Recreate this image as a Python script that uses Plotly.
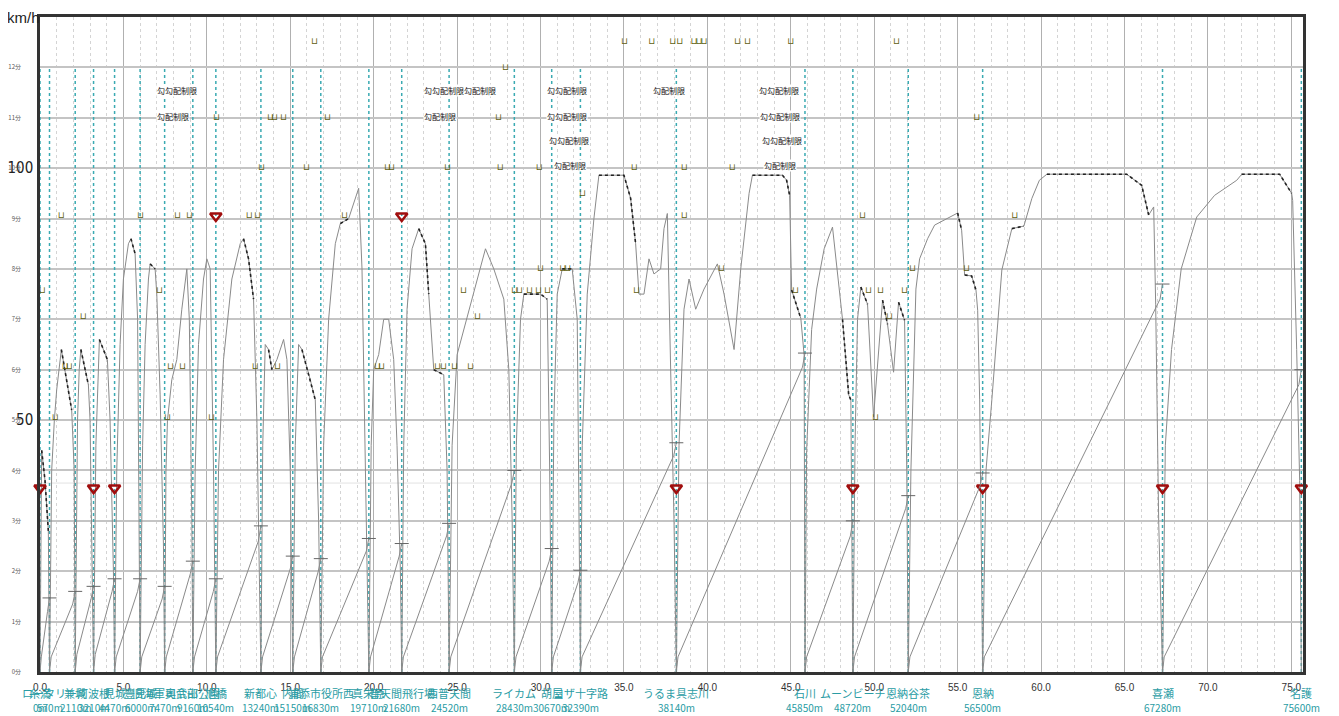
import plotly.graph_objects as go

# ---------------- data ----------------
station_km = [0.0, 0.57, 2.11, 3.21, 4.47, 6.0, 7.47, 9.16, 10.54, 13.24, 15.15, 16.83,
              19.71, 21.68, 24.52, 28.43, 30.67, 32.39, 38.14, 45.85, 48.72, 52.04,
              56.5, 67.28, 75.6]
station_names = ["糸満", "ロータリー", "兼城", "阿波根", "見城", "豊見城", "旧海軍司令部",
                 "奥武山公園", "旭橋", "新都心", "内間", "浦添市役所西", "真栄原",
                 "普天間飛行場", "西普天間", "ライカム", "胡屋", "コザ十字路", "うるま具志川",
                 "石川", "ムーンビーチ", "恩納谷茶", "恩納", "喜瀬", "名護"]
station_dist = ["0m", "570m", "2110m", "3210m", "4470m", "6000m", "7470m", "9160m",
                "10540m", "13240m", "15150m", "16830m", "19710m", "21680m", "24520m",
                "28430m", "30670m", "32390m", "38140m", "45850m", "48720m", "52040m",
                "56500m", "67280m", "75600m"]

# running speed curve (km, km/h)
speed_km = [0.0, 0.1, 0.3, 0.5, 0.57,
            0.7, 0.86, 1.0, 1.28, 1.6, 1.9, 2.05, 2.11,
            2.25, 2.35, 2.45, 2.9, 3.0, 3.15, 3.21,
            3.35, 3.5, 3.56, 4.04, 4.2, 4.4, 4.47,
            4.6, 4.8, 5.0, 5.3, 5.45, 5.7, 5.85, 6.0,
            6.15, 6.3, 6.5, 6.6, 6.9, 7.0, 7.2, 7.4, 7.47,
            7.55, 7.64, 7.9, 8.2, 8.5, 8.8, 8.95, 9.1, 9.16,
            9.3, 9.5, 9.8, 10.0, 10.2, 10.4, 10.54,
            10.7, 11.0, 11.5, 12.0, 12.2, 12.5, 12.8, 13.0, 13.24,
            13.35, 13.5, 13.7, 13.9, 14.2, 14.6, 14.8, 15.0, 15.15,
            15.3, 15.5, 15.7, 16.2, 16.5, 16.7, 16.83,
            17.0, 17.3, 17.7, 18.0, 18.5, 18.8, 19.1, 19.3, 19.5, 19.71,
            19.85, 20.0, 20.3, 20.6, 20.9, 21.2, 21.4, 21.6, 21.68,
            21.8, 22.0, 22.3, 22.7, 23.1, 23.3, 23.6, 24.2, 24.4, 24.52,
            24.7, 25.0, 25.4, 26.0, 26.7, 27.2, 27.8, 28.1, 28.3, 28.43,
            28.55, 28.8, 29.0, 30.0, 30.4, 30.55, 30.67,
            30.8, 31.0, 31.3, 31.9, 32.2, 32.39,
            32.5, 32.8, 33.2, 33.5, 35.0, 35.4, 35.7, 35.9, 36.2, 36.5, 36.8, 37.2, 37.4, 37.6, 37.8, 38.0, 38.14,
            38.3, 38.6, 38.9, 39.3, 39.8, 40.6, 41.0, 41.6, 42.0, 42.5, 42.7, 44.5, 44.75, 44.93, 45.05, 45.6, 45.8, 45.85,
            45.95, 46.25, 46.55, 47.0, 47.5, 48.1, 48.47, 48.6, 48.68, 48.72,
            48.85, 49.0, 49.2, 49.6, 49.96, 50.5, 50.8, 51.16, 51.46, 51.82, 51.95, 52.04,
            52.2, 52.4, 52.5, 52.72, 53.2, 53.62, 55.0, 55.24, 55.42, 55.84, 56.1, 56.2, 56.32, 56.5,
            56.7, 57.05, 57.4, 57.65, 58.25, 58.97, 59.45, 59.9, 60.35, 65.13, 66.03, 66.45, 66.75, 66.87, 67.05, 67.28,
            67.45, 67.82, 68.4, 69.33, 70.4, 71.73, 72.03, 74.3, 75.02, 75.08, 75.32, 75.5, 75.6]
speed_kmh = [0, 44, 38, 28, 0,
             40, 50, 56, 64, 58, 52, 40, 0,
             50, 60, 64, 57, 50, 20, 0,
             45, 60, 66, 62, 50, 20, 0,
             40, 65, 78, 85, 86, 83, 70, 0,
             45, 65, 78, 81, 80, 75, 55, 25, 0,
             40, 50, 58, 62, 72, 80, 70, 30, 0,
             40, 65, 78, 82, 80, 40, 0,
             40, 62, 78, 85, 86, 82, 74, 50, 0,
             45, 65, 64, 60, 62, 66, 62, 40, 0,
             45, 65, 64, 58, 54, 30, 0,
             45, 70, 85, 89, 90, 93, 96, 80, 40, 0,
             45, 60, 63, 70, 70, 62, 45, 20, 0,
             45, 72, 84, 88, 85, 75, 60, 59, 40, 0,
             45, 63, 68, 75, 84, 80, 74, 60, 30, 0,
             45, 70, 75, 75, 74, 40, 0,
             50, 75, 80, 80, 70, 0,
             45, 75, 90, 98.6, 98.6, 94, 85, 75, 75, 82, 79, 80, 88, 91, 60, 30, 0,
             45, 72, 78, 72, 76, 81, 75, 64, 80, 95, 98.6, 98.6, 97.6, 94.6, 75.8, 70.2, 62.9, 0,
             44, 68, 76, 84, 88.3, 70, 55, 54, 20, 0,
             45, 70, 76.4, 73, 50.6, 73.8, 69, 59.5, 73.4, 69.8, 40, 0,
             40, 67.5, 76, 82, 86, 88.7, 91.1, 87.7, 78.8, 78.6, 75.8, 71.8, 54, 0,
             40, 54, 70, 79.8, 88, 88.5, 94, 97.6, 98.8, 98.8, 96.6, 90.7, 92.3, 73, 30, 0,
             45, 64, 80, 90.3, 94.6, 97.6, 98.8, 98.8, 95, 93.6, 64, 38, 0]

# coasting / braking parts (dotted)
coast_km = [0.1, 0.3, 0.5, None, 1.28, 1.6, 1.9, None, 2.45, 2.9, None, 3.56, 4.04, None,
            5.45, 5.7, None, 6.6, 6.9, None, 12.2, 12.5, 12.8, None, 13.7, 13.9, None,
            15.7, 16.2, 16.5, None, 18.0, 18.5, None, 22.7, 23.1, 23.3, None, 23.6, 24.2, None,
            29.0, 30.0, 30.4, None, 31.3, 31.9, None, 33.5, 35.0, 35.4, 35.7, None,
            42.7, 44.5, 44.75, 44.93, None, 45.05, 45.6, None, 48.1, 48.47, 48.6, None,
            49.2, 49.6, None, 50.5, 50.8, None, 51.46, 51.82, None, 55.0, 55.24, None,
            55.42, 55.84, 56.1, None, 58.25, 58.97, None, 60.35, 65.13, 66.03, 66.45, None,
            72.03, 74.3, 75.02]
coast_kmh = [44, 38, 28, None, 64, 58, 52, None, 64, 57, None, 66, 62, None,
             86, 83, None, 81, 80, None, 86, 82, 74, None, 64, 60, None,
             64, 58, 54, None, 89, 90, None, 88, 85, 75, None, 60, 59, None,
             75, 75, 74, None, 80, 80, None, 98.6, 98.6, 94, 85, None,
             98.6, 98.6, 97.6, 94.6, None, 75.8, 70.2, None, 70, 55, 54, None,
             76.4, 73, None, 73.8, 69, None, 73.4, 69.8, None, 91.1, 87.7, None,
             78.8, 78.6, 75.8, None, 88, 88.5, None, 98.8, 98.8, 96.6, 90.7, None,
             98.8, 98.8, 95]

# running time curves (km, minutes)
time_km = [0.0, 0.08, 0.45, 0.57, None, 0.57, 0.67, 1.96, 2.11, None,
           2.11, 2.21, 3.06, 3.21, None, 3.21, 3.31, 4.32, 4.47, None,
           4.47, 4.57, 5.85, 6.0, None, 6.0, 6.1, 7.32, 7.47, None,
           7.47, 7.57, 9.01, 9.16, None, 9.16, 9.26, 10.39, 10.54, None,
           10.54, 10.64, 13.09, 13.24, None, 13.24, 13.34, 15.0, 15.15, None,
           15.15, 15.25, 16.68, 16.83, None, 16.83, 16.93, 19.56, 19.71, None,
           19.71, 19.81, 21.53, 21.68, None, 21.68, 21.78, 24.37, 24.52, None,
           24.52, 24.62, 28.28, 28.43, None, 28.43, 28.53, 30.52, 30.67, None,
           30.67, 30.77, 32.24, 32.39, None, 32.39, 32.49, 37.99, 38.14, None,
           38.14, 38.24, 45.7, 45.85, None, 45.85, 45.95, 48.57, 48.72, None,
           48.72, 48.82, 51.89, 52.04, None, 52.04, 52.14, 56.35, 56.5, None,
           56.5, 56.6, 67.13, 67.28, None, 67.28, 67.38, 75.45, 75.6]
time_min = [0, 0.3, 1.2, 1.47, None, 0, 0.3, 1.35, 1.6, None,
            0, 0.35, 1.45, 1.7, None, 0, 0.35, 1.6, 1.85, None,
            0, 0.3, 1.6, 1.85, None, 0, 0.3, 1.45, 1.7, None,
            0, 0.3, 1.95, 2.2, None, 0, 0.3, 1.6, 1.85, None,
            0, 0.3, 2.6, 2.9, None, 0, 0.3, 2.05, 2.3, None,
            0, 0.3, 2.0, 2.25, None, 0, 0.3, 2.4, 2.65, None,
            0, 0.3, 2.3, 2.55, None, 0, 0.3, 2.7, 2.95, None,
            0, 0.3, 3.75, 4.0, None, 0, 0.3, 2.2, 2.45, None,
            0, 0.3, 1.77, 2.02, None, 0, 0.3, 4.3, 4.55, None,
            0, 0.3, 6.05, 6.33, None, 0, 0.3, 2.7, 3.0, None,
            0, 0.3, 3.25, 3.5, None, 0, 0.3, 3.7, 3.95, None,
            0, 0.3, 7.4, 7.7, None, 0, 0.3, 5.7, 6.0]
arrival_min = [1.47, 1.6, 1.7, 1.85, 1.85, 1.7, 2.2, 1.85, 2.9, 2.3, 2.25, 2.65, 2.55,
               2.95, 4.0, 2.45, 2.02, 4.55, 6.33, 3.0, 3.5, 3.95, 7.7, 6.0]

# speed limit marks
limit_km = [16.45, 35.03, 36.66, 37.92, 38.34, 39.2, 39.5, 39.8, 41.81, 42.41, 45.0, 51.34,
            27.9,
            10.58, 13.81, 14.05, 14.59, 17.23, 27.48, 56.14,
            13.27, 15.97, 20.83, 21.07, 24.42, 27.58, 29.92, 35.62, 38.61, 41.49,
            32.52,
            1.28, 6.02, 8.24, 8.96, 12.55, 13.03, 18.25, 38.61, 49.3, 58.42,
            30.0, 31.33, 31.63, 40.85, 52.3, 55.54,
            0.14, 7.16, 25.38, 28.44, 28.74, 29.34, 29.88, 30.42, 35.75, 45.28, 49.66, 50.38, 51.82,
            2.6, 26.22, 50.92,
            1.52, 1.76, 7.82, 8.54, 12.91, 14.23, 20.23, 20.47, 23.83, 24.19, 24.84, 25.8,
            0.92, 7.64, 10.28, 50.08]
limit_kmh = [125] * 12 + [120] + [110] * 7 + [100] * 10 + [95] + [90.5] * 10 + \
            [80] * 6 + [75.6] * 13 + [70.6] * 3 + [60.5] * 12 + [50.4] * 4

# check points (red inverted triangles)
check_km = [0.0, 3.21, 4.47, 10.54, 21.68, 38.14, 48.72, 56.5, 67.28, 75.6]
check_kmh = [36.5, 36.5, 36.5, 90.5, 90.5, 36.5, 36.5, 36.5, 36.5, 36.5]

# gradient values along the bottom
grade_km = [1.76, 5.55, 7.17, 7.88, 8.66, 9.56, 10.15, 11.17, 12.67, 13.87, 14.65, 15.43, 16.75,
            17.4, 18.55, 20.53, 21.55, 22.27, 23.94, 24.78, 25.86, 26.94, 27.84, 30.3, 31.5,
            32.94, 33.84, 37.43, 39.35, 41.03, 42.23, 43.73, 44.63, 48.23, 49.72, 51.22, 52.6,
            55.72, 58.24, 60.8, 65.6, 67.0, 68.43, 72.2, 75.37]
grade_txt = ["6.0", "3.0", "-2", "-6", "-2.0", "3.0", "1.0", "5.0", "4.0", "-20", "25", "0.5", "5.0",
             "0", "-10.0", "6.0", "1-", "0", "-6", "5.0", "0-3.5", "0.25", "5.0", "-5", "5.0",
             "-15", "-2.0", "-30", "3.0 1.0", "5.0", "-10.0", "-35", "0 2.0", "35 0.0", "0.0", "5.0", "5.0",
             "-5.0", "-2.0", "2.0", "5.0", "-10", "2.0", "-2.0", "0.0"]

# gradient-limit notes
note_km = [8.24, 8.0, 25.2, 24.0, 31.6, 31.6, 31.7, 31.74, 37.67, 44.27, 44.33, 44.45, 44.33]
note_kmh = [115.5, 110.3, 115.5, 110.3, 115.5, 110.3, 105.4, 100.6, 115.5, 115.5, 110.3, 105.4, 100.6]
note_txt = ["勾勾配制限", "勾配制限", "勾勾配制限勾配制限", "勾配制限", "勾勾配制限", "勾勾配制限",
            "勾勾配制限", "勾配制限", "勾配制限", "勾勾配制限", "勾勾配制限", "勾勾配制限", "勾配制限"]

x_ticks = [0, 5, 10, 15, 20, 25, 30, 35, 40, 45, 50, 55, 60, 65, 70, 75]
minute_ticks = list(range(13))
minute_text = [f"{m}分" for m in minute_ticks]

TEAL = "#2a9ca4"
RED = "#a00d0d"
FONT = "Noto Sans CJK JP"

fig = go.Figure()

# time curves on the minute axis
fig.add_trace(go.Scatter(x=time_km, y=time_min, mode="lines", yaxis="y2",
                         line=dict(color="#8a8a8a", width=1), hoverinfo="skip", showlegend=False))
fig.add_trace(go.Scatter(x=station_km[1:], y=arrival_min, mode="markers", yaxis="y2",
                         marker=dict(symbol="line-ew-open", size=10, color="#666",
                                     line=dict(color="#666", width=1)),
                         hoverinfo="skip", showlegend=False))
# speed curve
fig.add_trace(go.Scatter(x=speed_km, y=speed_kmh, mode="lines",
                         line=dict(color="#8a8a8a", width=1), showlegend=False))
fig.add_trace(go.Scatter(x=coast_km, y=coast_kmh, mode="lines",
                         line=dict(color="#222", width=1.6, dash="dot"), showlegend=False,
                         hoverinfo="skip"))
# speed limit marks
fig.add_trace(go.Scatter(x=limit_km, y=limit_kmh, mode="text", text=["⊔"] * len(limit_km),
                         textfont=dict(color="#5f5f12", size=9, family="DejaVu Sans"),
                         cliponaxis=False, hoverinfo="skip", showlegend=False))
# check points
fig.add_trace(go.Scatter(x=check_km, y=check_kmh, mode="markers",
                         marker=dict(symbol="triangle-down-open", size=10, color=RED,
                                     line=dict(color=RED, width=2.5)),
                         cliponaxis=False, hoverinfo="skip", showlegend=False))
# stations
fig.add_trace(go.Scatter(x=station_km, y=[-0.7] * len(station_km), mode="markers",
                         marker=dict(symbol="triangle-up-open", size=15, color="#222",
                                     line=dict(color="#222", width=1.5)),
                         cliponaxis=False, hoverinfo="skip", showlegend=False))
# gradients
fig.add_trace(go.Scatter(x=grade_km, y=[-0.4] * len(grade_km), mode="text", text=grade_txt,
                         textfont=dict(color=TEAL, size=8, family="Liberation Sans"),
                         cliponaxis=False, hoverinfo="skip", showlegend=False))

shapes = []
for km in station_km:
    shapes.append(dict(type="line", xref="x", yref="y", x0=km, x1=km, y0=0, y1=120,
                       line=dict(color="#3aaab2", width=1.5, dash="dot"), layer="between"))
for v in (50, 100):
    shapes.append(dict(type="line", xref="paper", yref="y", x0=0, x1=1, y0=v, y1=v,
                       line=dict(color="#ee2020", width=1.5), layer="between"))
shapes.append(dict(type="line", xref="paper", yref="y", x0=0, x1=1, y0=37.5, y1=37.5,
                   line=dict(color="#e2e2e2", width=1), layer="below"))

annotations = []
for km, nm, ds in zip(station_km, station_names, station_dist):
    annotations.append(dict(x=km, y=0, xref="x", yref="paper", text=nm, showarrow=False,
                            yanchor="middle", yshift=-21, font=dict(color=TEAL, size=11, family=FONT)))
    annotations.append(dict(x=km, y=0, xref="x", yref="paper", text=ds, showarrow=False,
                            yanchor="middle", yshift=-35, font=dict(color=TEAL, size=10, family=FONT)))
for km, v, t in zip(note_km, note_kmh, note_txt):
    annotations.append(dict(x=km, y=v, xref="x", yref="y", text=t, showarrow=False,
                            bgcolor="white", borderpad=0, font=dict(color="#111", size=8, family=FONT)))
annotations.append(dict(x=0, y=1, xref="paper", yref="paper", text="km/h", showarrow=False,
                        xanchor="right", yanchor="middle", xshift=2,
                        font=dict(color="#222", size=15, family="Liberation Sans")))

fig.update_layout(
    width=1331, height=708,
    margin=dict(l=32, r=36, t=9, b=44, autoexpand=False),
    paper_bgcolor="white", plot_bgcolor="white",
    font=dict(family=FONT),
    shapes=shapes, annotations=annotations,
    xaxis=dict(range=[0, 75.7], tickvals=x_ticks, tickformat=".1f", automargin=False,
               tickfont=dict(size=10, color="#333", family="Liberation Sans"),
               showgrid=True, gridcolor="#b0b0b0", gridwidth=1,
               minor=dict(dtick=1, tick0=0, showgrid=True, gridcolor="#d4d4d4", griddash="dot", gridwidth=1),
               showline=True, mirror=True, linecolor="#333", linewidth=2.5,
               zeroline=False, ticks="", ticklabelstandoff=4),
    yaxis=dict(range=[0, 130], tickvals=[50, 100], ticktext=["50", "100"], automargin=False,
               tickfont=dict(size=15, color="#222",
                             family="Liberation Sans Narrow, DejaVu Sans Condensed, Liberation Sans"),
               showgrid=False, showline=True, mirror=True, linecolor="#333", linewidth=2.5,
               zeroline=False, ticks="", ticklabelstandoff=1),
    yaxis2=dict(range=[0, 13], overlaying="y", side="left", tickvals=minute_ticks, ticktext=minute_text,
                automargin=False,
                tickfont=dict(size=6, color="#555", family=FONT),
                showgrid=True, gridcolor="#c4c4c4", gridwidth=1.5, zeroline=False,
                showline=False, ticks="", ticklabelstandoff=18),
)

fig.write_html("out.html")
